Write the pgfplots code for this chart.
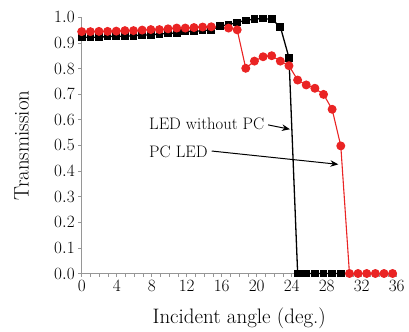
\documentclass[border=0pt]{standalone}
\usepackage{pgfplots}
\pgfplotsset{compat=1.18}
\usetikzlibrary{arrows.meta}
\definecolor{myred}{RGB}{234,36,36}
\definecolor{axgray}{RGB}{150,150,150}
\begin{document}
\begin{tikzpicture}
\begin{axis}[
  scale only axis,
  width=315bp, height=256.2bp,
  xmin=0, xmax=36, ymin=0, ymax=1.0,
  axis x line=bottom, axis y line=left,
  axis line style={-, axgray, line width=0.8bp},
  xtick={0,4,...,36},
  minor x tick num=3,
  ytick={0,0.1,...,1.0},
  tick align=outside,
  major tick length=3.5bp, minor tick length=3.5bp,
  tick style={axgray, line width=0.6bp},
  yticklabel style={/pgf/number format/.cd, fixed, fixed zerofill, precision=1},
  tick label style={font=\fontsize{18}{20}\selectfont, black},
  xlabel={Incident angle (deg.)},
  ylabel={Transmission},
  label style={font=\fontsize{21}{24}\selectfont},
  xlabel style={at={(axis description cs:0.5,-0.1737)}, anchor=center},
  ylabel style={at={(axis description cs:-0.1905,0.5)}, anchor=center},
  clip=false,
]
\coordinate (O) at (rel axis cs:0,0);
% LED without PC (black squares)
\addplot[black, line width=1.3bp, mark=square*, mark size=3.2bp, mark options={solid}] coordinates {
(0,0.922) (0.99,0.922) (1.97,0.922) (2.96,0.925) (3.95,0.926) (4.94,0.926)
(5.92,0.928) (6.91,0.931) (7.90,0.931) (8.88,0.935) (9.87,0.937) (10.86,0.939)
(11.84,0.945) (12.83,0.945) (13.82,0.948) (14.81,0.951) (15.79,0.966) (16.78,0.971)
(17.77,0.980) (18.75,0.988) (19.74,0.993) (20.73,0.995) (21.71,0.992) (22.70,0.963)
(23.69,0.842) (24.68,0) (25.66,0) (26.65,0) (27.64,0) (28.62,0) (29.61,0)
};
% PC LED (red circles)
\addplot[myred, line width=1.1bp, mark=*, mark size=3.9bp, mark options={solid, fill=myred, draw=myred}] coordinates {
(0,0.944) (0.99,0.944) (1.97,0.945) (2.96,0.945) (3.95,0.946) (4.94,0.948)
(5.92,0.948) (6.91,0.950) (7.90,0.952) (8.88,0.952) (9.87,0.955) (10.86,0.958)
(11.84,0.958) (12.83,0.960) (13.82,0.962) (14.81,0.963) (16.78,0.958)
(17.77,0.951) (18.75,0.801) (19.74,0.829) (20.73,0.846) (21.71,0.850) (22.70,0.829)
(23.69,0.811) (24.68,0.755) (25.66,0.736) (26.65,0.723) (27.64,0.699) (28.62,0.641)
(29.61,0.498) (30.60,0) (31.58,0) (32.57,0) (33.56,0) (34.55,0) (35.53,0)
};
\node[anchor=west, inner sep=0, font=\fontsize{16.7}{19}\selectfont] at (axis cs:7.69,0.583) {LED without PC};
\node[anchor=west, inner sep=0, font=\fontsize{16.7}{19}\selectfont] at (axis cs:7.69,0.475) {PC LED};
\draw[black, line width=1bp, -{Stealth[length=8bp,width=6.5bp]}] (axis cs:21.3,0.580) -- (axis cs:23.8,0.563);
\draw[black, line width=1bp, -{Stealth[length=8bp,width=6.5bp]}] (axis cs:14.86,0.478) -- (axis cs:29.33,0.426);
\end{axis}
\path (O) +(-81.7bp,-57.5bp) +(327.3bp,273.5bp);
\end{tikzpicture}
\end{document}
